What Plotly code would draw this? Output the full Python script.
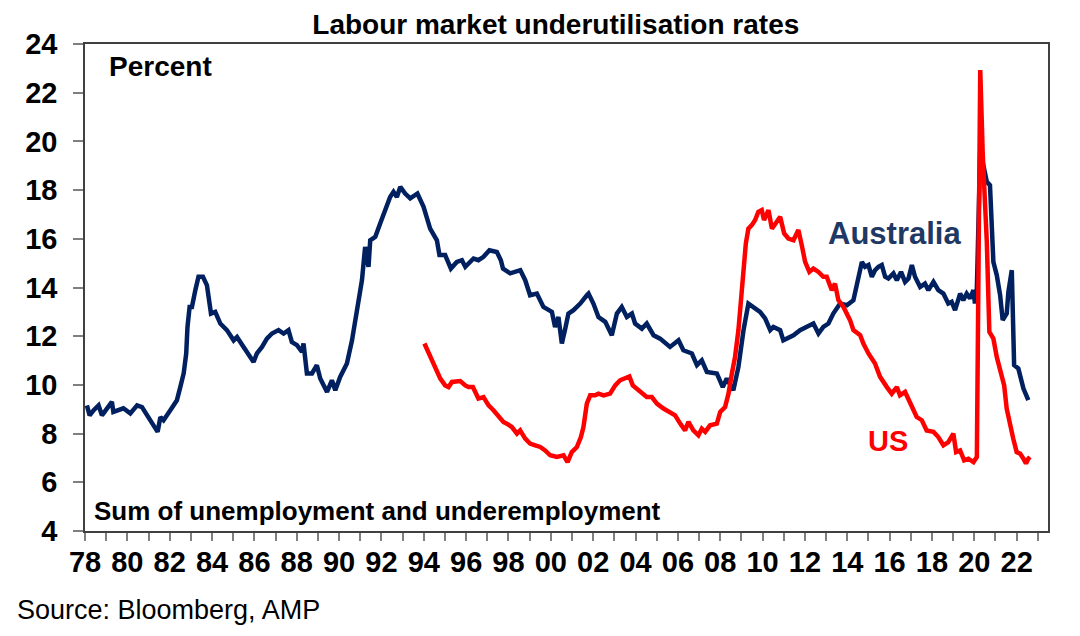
import plotly.graph_objects as go

# Australia - sum of unemployment and underemployment rate (%)
aus_years = [1978.09, 1978.22, 1978.41, 1978.64, 1978.80, 1979.04, 1979.27, 1979.34, 1979.51, 1979.81,
             1980.14, 1980.46, 1980.69, 1980.93, 1981.16, 1981.43, 1981.56, 1981.71, 1982.03, 1982.34,
             1982.50, 1982.66, 1982.78, 1982.84, 1982.94, 1983.05, 1983.21, 1983.36, 1983.57, 1983.76,
             1983.95, 1984.15, 1984.39, 1984.70, 1985.02, 1985.18, 1985.49, 1985.96, 1986.12, 1986.36,
             1986.59, 1986.83, 1987.14, 1987.38, 1987.61, 1987.77, 1988.01, 1988.25, 1988.32, 1988.48,
             1988.72, 1988.95, 1989.11, 1989.43, 1989.66, 1989.82, 1990.05, 1990.37, 1990.61, 1990.84,
             1991.08, 1991.23, 1991.39, 1991.47, 1991.71, 1991.94, 1992.18, 1992.41, 1992.57, 1992.73,
             1992.89, 1993.12, 1993.36, 1993.70, 1993.99, 1994.30, 1994.62, 1994.74, 1995.01, 1995.28,
             1995.56, 1995.80, 1995.96, 1996.35, 1996.58, 1996.82, 1997.10, 1997.45, 1997.64, 1997.74,
             1998.08, 1998.56, 1998.79, 1999.02, 1999.34, 1999.65, 2000.05, 2000.20, 2000.36, 2000.52,
             2000.68, 2000.83, 2001.07, 2001.39, 2001.70, 2001.78, 2002.01, 2002.25, 2002.57, 2002.88,
             2003.12, 2003.35, 2003.59, 2003.83, 2003.98, 2004.30, 2004.53, 2004.85, 2005.16, 2005.63,
             2006.03, 2006.26, 2006.66, 2006.90, 2007.13, 2007.37, 2007.84, 2008.12, 2008.31, 2008.62,
             2008.86, 2009.10, 2009.33, 2009.57, 2009.88, 2010.12, 2010.36, 2010.51, 2010.83, 2010.98,
             2011.30, 2011.46, 2011.77, 2012.09, 2012.40, 2012.64, 2012.87, 2013.11, 2013.34, 2013.66,
             2013.98, 2014.29, 2014.53, 2014.69, 2014.84, 2015.00, 2015.16, 2015.31, 2015.47, 2015.63,
             2015.79, 2015.94, 2016.18, 2016.34, 2016.54, 2016.73, 2016.89, 2017.05, 2017.20, 2017.44,
             2017.67, 2017.83, 2018.07, 2018.30, 2018.54, 2018.77, 2018.93, 2019.09, 2019.33, 2019.48,
             2019.64, 2019.80, 2019.96, 2020.03, 2020.12, 2020.28, 2020.36, 2020.59, 2020.74, 2020.90,
             2021.06, 2021.22, 2021.34, 2021.53, 2021.61, 2021.77, 2021.88, 2022.08, 2022.32, 2022.55]
aus_values = [9.16, 8.75, 8.96, 9.16, 8.75, 9.03, 9.30, 8.89, 8.96, 9.04,
              8.83, 9.16, 9.09, 8.75, 8.48, 8.07, 8.68, 8.55, 8.96, 9.37,
              9.91, 10.47, 11.29, 12.38, 13.20, 13.20, 13.89, 14.44, 14.44, 14.09,
              12.93, 13.00, 12.52, 12.25, 11.83, 11.97, 11.56, 10.94, 11.29, 11.56,
              11.90, 12.11, 12.25, 12.11, 12.25, 11.76, 11.63, 11.35, 11.70, 10.47,
              10.47, 10.81, 10.26, 9.71, 10.19, 9.78, 10.33, 10.88, 11.83, 13.07,
              14.30, 15.67, 14.85, 15.94, 16.08, 16.63, 17.18, 17.72, 17.93, 17.72,
              18.13, 17.86, 17.66, 17.86, 17.31, 16.42, 15.94, 15.33, 15.33, 14.78,
              15.05, 15.12, 14.85, 15.19, 15.12, 15.26, 15.53, 15.46, 15.12, 14.78,
              14.58, 14.71, 14.30, 13.68, 13.75, 13.20, 13.00, 12.38, 12.79, 11.70,
              12.31, 12.93, 13.07, 13.34, 13.68, 13.75, 13.34, 12.79, 12.59, 12.04,
              12.93, 13.20, 12.79, 12.93, 12.52, 12.31, 12.52, 12.04, 11.90, 11.56,
              11.83, 11.42, 11.29, 10.81, 11.01, 10.53, 10.47, 9.91, 10.26, 9.78,
              10.74, 12.25, 13.34, 13.20, 13.00, 12.73, 12.25, 12.38, 12.25, 11.83,
              11.97, 12.04, 12.25, 12.38, 12.52, 12.11, 12.38, 12.52, 12.93, 13.34,
              13.27, 13.48, 14.44, 15.05, 14.85, 14.92, 14.44, 14.71, 14.85, 14.92,
              14.44, 14.37, 14.58, 14.30, 14.64, 14.23, 14.37, 14.92, 14.44, 14.02,
              14.16, 13.89, 14.23, 13.89, 13.75, 13.34, 13.41, 13.07, 13.75, 13.48,
              13.75, 13.55, 13.89, 13.34, 13.96, 19.60, 19.30, 18.34, 18.20, 15.05,
              14.51, 13.68, 12.66, 12.93, 13.82, 14.71, 10.81, 10.67, 9.85, 9.37]

# US - U6 underutilisation rate (%)
us_years = [1994.03, 1994.22, 1994.38, 1994.54, 1994.78, 1995.01, 1995.17, 1995.33, 1995.72, 1995.96,
            1996.11, 1996.32, 1996.58, 1996.82, 1997.06, 1997.29, 1997.53, 1997.76, 1997.92, 1998.16,
            1998.40, 1998.55, 1998.79, 1999.02, 1999.26, 1999.50, 1999.73, 1999.97, 2000.28, 2000.60,
            2000.79, 2000.99, 2001.23, 2001.42, 2001.54, 2001.70, 2001.86, 2002.09, 2002.25, 2002.49,
            2002.80, 2003.04, 2003.27, 2003.51, 2003.71, 2003.87, 2004.06, 2004.30, 2004.53, 2004.77,
            2005.01, 2005.32, 2005.64, 2005.87, 2006.11, 2006.34, 2006.50, 2006.73, 2006.97, 2007.13,
            2007.29, 2007.52, 2007.84, 2008.00, 2008.23, 2008.39, 2008.55, 2008.70, 2008.86, 2009.02,
            2009.10, 2009.21, 2009.33, 2009.49, 2009.65, 2009.80, 2009.96, 2010.07, 2010.28, 2010.44,
            2010.67, 2010.83, 2011.02, 2011.22, 2011.46, 2011.69, 2011.85, 2012.01, 2012.21, 2012.40,
            2012.64, 2012.87, 2013.03, 2013.27, 2013.42, 2013.58, 2013.82, 2014.13, 2014.29, 2014.61,
            2014.76, 2015.00, 2015.31, 2015.55, 2015.87, 2016.10, 2016.34, 2016.49, 2016.73, 2017.05,
            2017.28, 2017.52, 2017.75, 2018.07, 2018.30, 2018.54, 2018.77, 2019.01, 2019.14, 2019.33,
            2019.52, 2019.72, 2019.96, 2020.12, 2020.28, 2020.40, 2020.59, 2020.71, 2020.90, 2021.06,
            2021.22, 2021.41, 2021.53, 2021.69, 2021.84, 2022.00, 2022.16, 2022.32, 2022.44, 2022.55,
            2022.63]
us_values = [11.70, 11.35, 11.01, 10.67, 10.26, 9.98, 9.91, 10.12, 10.16, 9.98,
             9.91, 9.91, 9.44, 9.50, 9.16, 8.96, 8.68, 8.48, 8.41, 8.27,
             8.00, 8.13, 7.79, 7.59, 7.52, 7.45, 7.31, 7.11, 7.04, 7.11,
             6.83, 7.24, 7.45, 7.86, 8.27, 9.23, 9.57, 9.57, 9.64, 9.57,
             9.64, 9.98, 10.19, 10.26, 10.35, 9.98, 9.85, 9.64, 9.50, 9.50,
             9.23, 9.03, 8.89, 8.75, 8.41, 8.13, 8.48, 8.13, 7.93, 8.20,
             8.07, 8.34, 8.41, 8.89, 9.09, 9.64, 10.47, 11.15, 12.25, 13.75,
             14.85, 15.81, 16.42, 16.56, 16.77, 17.11, 17.18, 16.77, 17.18, 16.42,
             16.70, 16.90, 16.22, 16.01, 15.94, 16.36, 15.74, 15.05, 14.64, 14.78,
             14.64, 14.44, 14.44, 13.89, 14.16, 13.48, 13.20, 12.66, 12.25, 12.04,
             11.70, 11.29, 10.88, 10.33, 9.91, 9.64, 9.91, 9.57, 9.71, 9.16,
             8.68, 8.55, 8.13, 8.07, 7.86, 7.52, 7.65, 8.00, 7.24, 7.31,
             6.90, 6.97, 6.83, 7.04, 22.93, 19.44, 15.87, 12.18, 11.90, 11.15,
             10.53, 9.98, 9.02, 8.48, 7.79, 7.24, 7.18, 6.97, 6.77, 6.97,
             7.04]

tick_years = list(range(1978, 2023, 2))
tick_labels = ["78", "80", "82", "84", "86", "88", "90", "92", "94", "96", "98", "00",
               "02", "04", "06", "08", "10", "12", "14", "16", "18", "20", "22"]

font = "Arial, Liberation Sans, sans-serif"
navy = "#002060"
red = "#FF0000"

fig = go.Figure()
fig.add_trace(go.Scatter(x=aus_years, y=aus_values, mode="lines", name="Australia",
                         line=dict(color=navy, width=4.5)))
fig.add_trace(go.Scatter(x=us_years, y=us_values, mode="lines", name="US",
                         line=dict(color=red, width=4.5)))

# page has an 8px body margin, so the figure is a bit smaller than the window
fig.update_layout(
    width=1072, height=628,
    margin=dict(l=77, r=32, t=36, b=105),
    paper_bgcolor="white", plot_bgcolor="white",
    showlegend=False,
    font=dict(family=font, color="black"),
    title=dict(text="Labour market underutilisation rates", x=0.511, xanchor="center",
               y=0.99, yanchor="top",
               font=dict(size=28, weight="bold", family=font, color="black")),
)

fig.update_xaxes(range=[1978, 2023.48], tickvals=tick_years, ticktext=tick_labels,
                 ticks="outside", ticklen=8, tickcolor="#7f7f7f", tickwidth=1.5,
                 minor=dict(dtick=1, tick0=1978, ticks="outside", ticklen=8, tickcolor="#7f7f7f", tickwidth=1.5),
                 showgrid=False, zeroline=False,
                 showline=True, linecolor="#404040", linewidth=1.5, mirror=True,
                 tickfont=dict(size=29, weight="bold", family=font, color="black"),
                 ticklabelstandoff=-4)
fig.update_yaxes(range=[4, 24], dtick=2, ticks="outside", ticklen=10, tickcolor="#7f7f7f", tickwidth=1.5,
                 showgrid=False, zeroline=False,
                 showline=True, linecolor="#404040", linewidth=1.5, mirror=True,
                 tickfont=dict(size=29, weight="bold", family=font, color="black"),
                 ticklabelstandoff=10)

fig.add_annotation(text="Percent", xref="paper", yref="paper", x=0.0228, y=0.953,
                   xanchor="left", yanchor="middle", showarrow=False,
                   font=dict(size=28, weight="bold", family=font, color="black"))
fig.add_annotation(text="Sum of unemployment and underemployment", xref="paper", yref="paper",
                   x=0.0076, y=0.041, xanchor="left", yanchor="middle", showarrow=False,
                   font=dict(size=26, weight="bold", family=font, color="black"))
fig.add_annotation(text="Australia", xref="paper", yref="paper", x=0.769, y=0.61,
                   xanchor="left", yanchor="middle", showarrow=False,
                   font=dict(size=31, weight="bold", family=font, color="#1F3864"))
fig.add_annotation(text="US", xref="paper", yref="paper", x=0.811, y=0.185,
                   xanchor="left", yanchor="middle", showarrow=False,
                   font=dict(size=29, weight="bold", family=font, color=red))
fig.add_annotation(text="Source: Bloomberg, AMP", xref="paper", yref="paper", x=-0.0732, y=-0.162,
                   xanchor="left", yanchor="middle", showarrow=False,
                   font=dict(size=27, family=font, color="black"))

fig.write_html("out.html")
